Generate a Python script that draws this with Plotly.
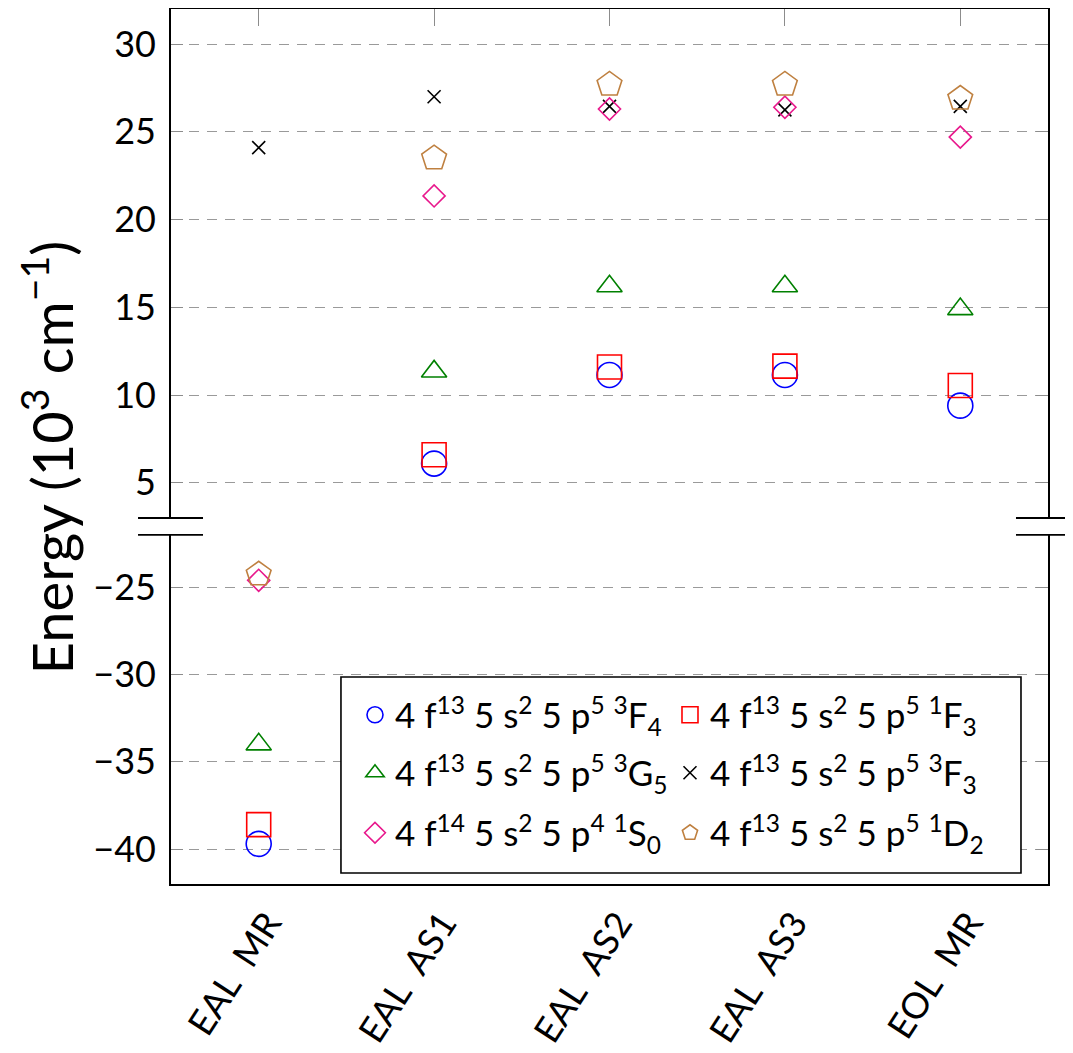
import plotly.graph_objects as go

# ---------------- data ----------------
categories = ["EAL MR", "EAL AS1", "EAL AS2", "EAL AS3", "EOL MR"]
tick_labels = ["EAL\u2002MR", "EAL\u2002AS1", "EAL\u2002AS2", "EAL\u2002AS3", "EOL\u2002MR"]

state_names = [
    "4 f<sup>13</sup> 5 s<sup>2</sup> 5 p<sup>5</sup> <sup>3</sup>F<sub>4</sub>",
    "4 f<sup>13</sup> 5 s<sup>2</sup> 5 p<sup>5</sup> <sup>1</sup>F<sub>3</sub>",
    "4 f<sup>13</sup> 5 s<sup>2</sup> 5 p<sup>5</sup> <sup>3</sup>G<sub>5</sub>",
    "4 f<sup>13</sup> 5 s<sup>2</sup> 5 p<sup>5</sup> <sup>3</sup>F<sub>3</sub>",
    "4 f<sup>14</sup> 5 s<sup>2</sup> 5 p<sup>4</sup> <sup>1</sup>S<sub>0</sub>",
    "4 f<sup>13</sup> 5 s<sup>2</sup> 5 p<sup>5</sup> <sup>1</sup>D<sub>2</sub>",
]

e_3F4 = [-39.7, 6.1, 11.15, 11.15, 9.4]
e_1F3 = [-38.6, 6.6, 11.6, 11.65, 10.55]
e_3G5 = [-34.0, 11.35, 16.2, 16.2, 14.9]
e_3F3 = [24.1, 27.0, 26.45, 26.25, 26.45]
e_1S0 = [-24.6, 21.35, 26.3, 26.4, 24.7]
e_1D2 = [-24.25, 23.5, 27.7, 27.7, 26.9]

series_values = [e_3F4, e_1F3, e_3G5, e_3F3, e_1S0, e_1D2]

upper_ticks = [5, 10, 15, 20, 25, 30]
lower_ticks = [-40, -35, -30, -25]
upper_range = [3, 32]
lower_range = [-42, -22]

# ---------------- styles ----------------
symbols = ["circle-open", "square-open", "triangle-up-open", "x-thin-open",
           "diamond-open", "pentagon-open"]
colors = ["#0000ff", "#ff0000", "#008000", "#000000", "#e8188c", "#bf8040"]
sizes = [25, 24, 22, 13, 17, 26]
legend_rows = ["legend", "legend", "legend2", "legend2", "legend3", "legend3"]

FONT = "Lato"
upper_dom = [0.4183, 1.0]
lower_dom = [0.0, 0.3989]

fig = go.Figure()

for name, vals, sym, col, sz, lg in zip(state_names, series_values, symbols, colors,
                                        sizes, legend_rows):
    marker = dict(symbol=sym, color=col, size=sz, line=dict(color=col, width=1.6))
    # upper part of the broken axis
    fig.add_trace(go.Scatter(x=categories, y=vals, mode="markers", name=name,
                             marker=marker, xaxis="x2", yaxis="y", legend=lg,
                             showlegend=True, cliponaxis=True))
    # lower part of the broken axis
    fig.add_trace(go.Scatter(x=categories, y=vals, mode="markers", name=name,
                             marker=marker, xaxis="x", yaxis="y2",
                             showlegend=False, cliponaxis=True))

grid = dict(showgrid=True, gridcolor="#9a9a9a", gridwidth=1.2, griddash="10px,8px")
yax_common = dict(showline=True, linecolor="black", linewidth=1.6, mirror="allticks",
                  ticks="inside", ticklen=12, tickcolor="#8c8c8c", tickwidth=1.2,
                  zeroline=False, ticklabelstandoff=6,
                  tickfont=dict(family=FONT, size=36, color="black"),
                  **grid)

leg_common = dict(orientation="h", x=0.2098, xanchor="left", yanchor="middle",
                  bgcolor="rgba(0,0,0,0)", borderwidth=0,
                  font=dict(family=FONT, size=35, color="black"),
                  entrywidth=270, entrywidthmode="pixels", itemsizing="trace")

fig.update_layout(
    width=1065, height=1045,
    margin=dict(l=163, r=25, t=1, b=169, autoexpand=False),
    paper_bgcolor="white", plot_bgcolor="white",
    font=dict(family=FONT, color="black"),
    xaxis=dict(type="category", categoryorder="array", categoryarray=categories,
               range=[-0.5, 4.5], anchor="y2", showline=True, linecolor="black",
               linewidth=1.6, ticks="", showgrid=False, tickangle=-57,
               tickvals=categories, ticktext=tick_labels, ticklabelstandoff=2,
               ticklabelshift=9,
               tickfont=dict(family=FONT, size=36, color="black")),
    xaxis2=dict(type="category", categoryorder="array", categoryarray=categories,
                range=[-0.5, 4.5], anchor="y", side="top", matches="x",
                showline=True, linecolor="black", linewidth=1.6,
                ticks="inside", ticklen=17, tickcolor="#8c8c8c", tickwidth=1.2,
                showticklabels=False, showgrid=False),
    yaxis=dict(domain=upper_dom, range=upper_range, tickvals=upper_ticks, **yax_common),
    yaxis2=dict(domain=lower_dom, range=lower_range, tickvals=lower_ticks, **yax_common),
    legend=dict(y=0.1931, **leg_common),
    legend2=dict(y=0.1269, **leg_common),
    legend3=dict(y=0.0583, **leg_common),
    showlegend=True,
)

# legend frame
fig.add_shape(type="rect", xref="paper", yref="paper", x0=0.1938, x1=0.9692,
              y0=0.01257, y1=0.2366, layer="above",
              fillcolor="white", line=dict(color="black", width=1.6))

# axis break marks
for ypos in [upper_dom[0], lower_dom[1]]:
    for x0, x1 in [(-0.0376, 0.0365), (0.9635, 1.03)]:
        fig.add_shape(type="line", xref="paper", yref="paper", x0=x0, x1=x1,
                      y0=ypos, y1=ypos, line=dict(color="black", width=1.8))

fig.add_annotation(text="Energy (10<sup>3</sup> cm<sup>\u22121</sup>)",
                   xref="paper", yref="paper",
                   x=-0.140, y=0.4869, xanchor="center", yanchor="middle",
                   textangle=-90, showarrow=False,
                   font=dict(family=FONT, size=56, color="black"))

fig.write_html("out.html")
